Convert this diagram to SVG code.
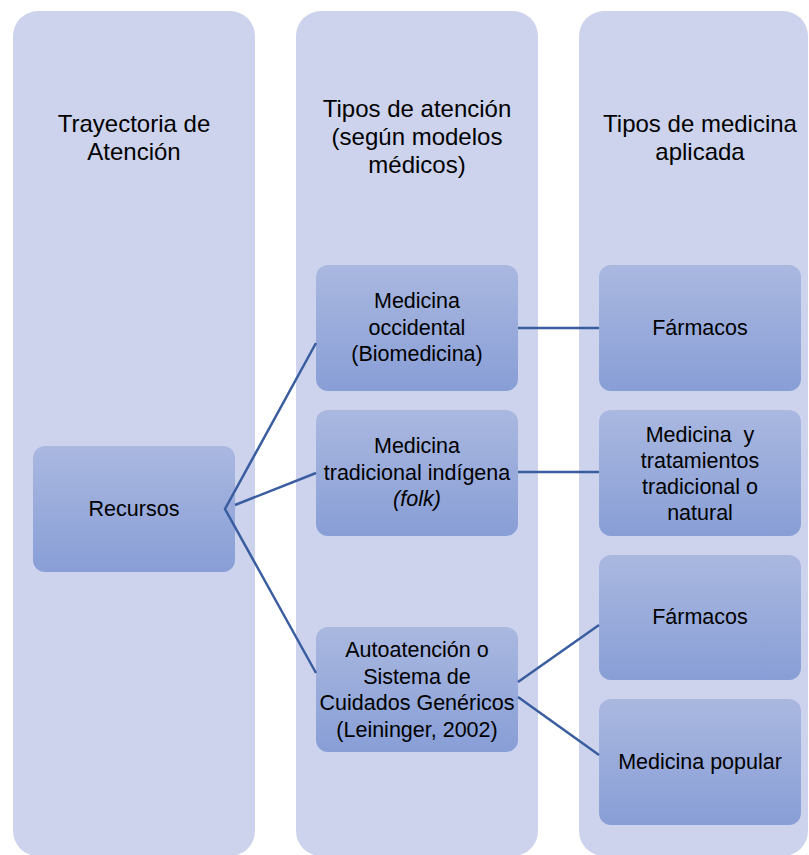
<svg xmlns="http://www.w3.org/2000/svg" width="809" height="855" viewBox="0 0 809 855">
<defs>
<linearGradient id="ng" x1="0" y1="0" x2="0" y2="1">
<stop offset="0" stop-color="#AAB8E0"/>
<stop offset="1" stop-color="#889ED6"/>
</linearGradient>
<style>
.col{fill:#CDD3EC;}
.node{fill:url(#ng);}
text{font-family:"Liberation Sans",Arial,sans-serif;fill:#000;text-anchor:middle;}
.h{font-size:24px;}
.t{font-size:21.5px;}
.conn{stroke:#3A5DA0;stroke-width:2.5;fill:none;}
</style>
</defs>
<rect width="809" height="855" fill="#FFFFFF"/>
<g id="col1"><rect class="col" x="13" y="11" width="242" height="845" rx="25"/>
<text class="h" x="134" y="132">Trayectoria de</text><text class="h" x="134" y="160">Atención</text></g>
<g id="col2"><rect class="col" x="296" y="11" width="242" height="845" rx="25"/>
<text class="h" x="417" y="117">Tipos de atención</text><text class="h" x="417" y="145">(según modelos</text><text class="h" x="417" y="173">médicos)</text></g>
<g id="col3"><rect class="col" x="579" y="11" width="229" height="845" rx="25"/>
<text class="h" x="700" y="132">Tipos de medicina</text><text class="h" x="700" y="160">aplicada</text></g>

<g id="recursos"><rect class="node" x="33" y="446" width="202" height="126" rx="12"/>
<text class="t" x="134" y="516">Recursos</text></g>
<g id="occidental"><rect class="node" x="316" y="265" width="202" height="126" rx="12"/>
<text class="t" x="417" y="308">Medicina</text><text class="t" x="417" y="335">occidental</text><text class="t" x="417" y="361">(Biomedicina)</text></g>
<g id="tradicional"><rect class="node" x="316" y="410" width="202" height="126" rx="12"/>
<text class="t" x="417" y="453">Medicina</text><text class="t" x="417" y="480">tradicional indígena</text><text class="t" x="417" y="506" font-style="italic">(folk)</text></g>
<g id="autoatencion"><rect class="node" x="316" y="627" width="202" height="125" rx="12"/>
<text class="t" x="417" y="657">Autoatención o</text><text class="t" x="417" y="684">Sistema de</text><text class="t" x="417" y="710">Cuidados Genéricos</text><text class="t" x="417" y="737">(Leininger, 2002)</text></g>
<g id="farmacos1"><rect class="node" x="599" y="265" width="202" height="126" rx="12"/>
<text class="t" x="700" y="335">Fármacos</text></g>
<g id="tratamientos"><rect class="node" x="599" y="410" width="202" height="126" rx="12"/>
<text class="t" x="700" y="442" xml:space="preserve">Medicina  y</text><text class="t" x="700" y="468">tratamientos</text><text class="t" x="700" y="494">tradicional o</text><text class="t" x="700" y="520">natural</text></g>
<g id="farmacos2"><rect class="node" x="599" y="555" width="202" height="125" rx="12"/>
<text class="t" x="700" y="624">Fármacos</text></g>
<g id="popular"><rect class="node" x="599" y="699" width="202" height="126" rx="12"/>
<text class="t" x="700" y="769">Medicina popular</text></g>

<g id="connectors">
<polyline class="conn" points="316,343 225,509 316,673"/>
<line class="conn" x1="235" y1="505" x2="316" y2="473"/>
<line class="conn" x1="518" y1="328" x2="599" y2="328"/>
<line class="conn" x1="518" y1="472" x2="599" y2="472"/>
<line class="conn" x1="518" y1="682" x2="599" y2="625"/>
<line class="conn" x1="518" y1="697" x2="599" y2="755"/>
</g>
</svg>
